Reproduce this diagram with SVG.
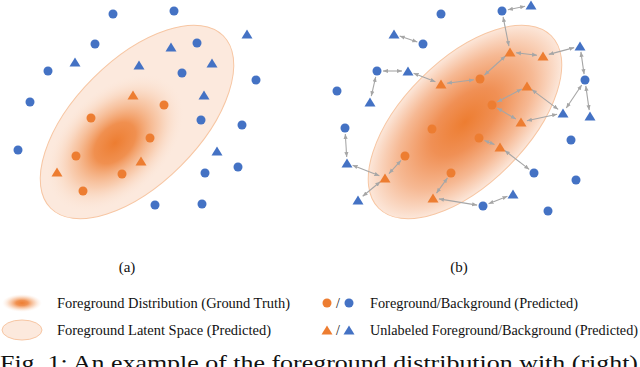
<svg xmlns="http://www.w3.org/2000/svg" xmlns:xlink="http://www.w3.org/1999/xlink" width="640" height="367" viewBox="0 0 640 367">
<style>
.bg{fill:#fff}
.b{fill:#4472C4}
.o{fill:#ED7D31}
.space{fill:#FCE9DD;stroke:#F7C6A3;stroke-width:1}
.conn line{stroke:#A6A6A6;stroke-width:1.1;marker-start:url(#ah);marker-end:url(#ah)}
.t{font-family:"Liberation Serif","Times New Roman",serif;fill:#111}
.lg{font-size:14px}
.lab{font-size:15px}
.cap{font-size:22px}
</style>
<defs>
<circle id="c" r="4.5"/>
<path id="tr" d="M0,-5.5 L5.5,3.5 L-5.5,3.5 Z"/>
<marker id="ah" viewBox="0 0 6 6" refX="6" refY="3" markerWidth="5" markerHeight="5" markerUnits="userSpaceOnUse" orient="auto-start-reverse">
<path d="M0,0.5 L6,3 L0,5.5 Z" fill="#A6A6A6"/>
</marker>
<radialGradient id="gt" cx="0.5" cy="0.5" r="0.5">
<stop offset="0" stop-color="#ED7D31" stop-opacity="1"/>
<stop offset="0.3" stop-color="#EF8640" stop-opacity="0.9"/>
<stop offset="0.65" stop-color="#F4AA78" stop-opacity="0.45"/>
<stop offset="1" stop-color="#FBE3D3" stop-opacity="0"/>
</radialGradient>
<radialGradient id="gb" cx="0.5" cy="0.5" r="0.5">
<stop offset="0" stop-color="#ED7D31"/>
<stop offset="0.35" stop-color="#F09055"/>
<stop offset="0.7" stop-color="#F6B994"/>
<stop offset="1" stop-color="#FCE7DA"/>
</radialGradient>
</defs>
<rect class="bg" x="0" y="0" width="640" height="367"/>

<!-- Panel (a) -->
<g id="panel-a-space">
<ellipse class="space" cx="137" cy="122" rx="122" ry="62" transform="rotate(-45 137 122)"/>
<ellipse cx="115" cy="143" rx="82" ry="52" fill="url(#gt)" transform="rotate(-45 115 143)"/>
</g>
<g id="a-nodes">
<g id="a-bc1"><use href="#c" class="b" x="113" y="14"/></g>
<g id="a-bc2"><use href="#c" class="b" x="174" y="11"/></g>
<g id="a-bc3"><use href="#c" class="b" x="95" y="44"/></g>
<g id="a-bc4"><use href="#c" class="b" x="197" y="43"/></g>
<g id="a-bc5"><use href="#c" class="b" x="48" y="71"/></g>
<g id="a-bc6"><use href="#c" class="b" x="182" y="73"/></g>
<g id="a-bc7"><use href="#c" class="b" x="256" y="80"/></g>
<g id="a-bc8"><use href="#c" class="b" x="30" y="102"/></g>
<g id="a-bc9"><use href="#c" class="b" x="201" y="120"/></g>
<g id="a-bc10"><use href="#c" class="b" x="242" y="125"/></g>
<g id="a-bc11"><use href="#c" class="b" x="18" y="150"/></g>
<g id="a-bc12"><use href="#c" class="b" x="205" y="173"/></g>
<g id="a-bc13"><use href="#c" class="b" x="238" y="167"/></g>
<g id="a-bc14"><use href="#c" class="b" x="155" y="205"/></g>
<g id="a-bc15"><use href="#c" class="b" x="202" y="204"/></g>
<g id="a-bt1"><use href="#tr" class="b" x="247" y="35"/></g>
<g id="a-bt2"><use href="#tr" class="b" x="171" y="48"/></g>
<g id="a-bt3"><use href="#tr" class="b" x="75" y="63"/></g>
<g id="a-bt4"><use href="#tr" class="b" x="139" y="66"/></g>
<g id="a-bt5"><use href="#tr" class="b" x="212" y="64"/></g>
<g id="a-bt6"><use href="#tr" class="b" x="204" y="96"/></g>
<g id="a-bt7"><use href="#tr" class="b" x="217" y="152"/></g>
<g id="a-oc1"><use href="#c" class="o" x="164" y="105"/></g>
<g id="a-oc2"><use href="#c" class="o" x="91" y="118"/></g>
<g id="a-oc3"><use href="#c" class="o" x="150" y="138"/></g>
<g id="a-oc4"><use href="#c" class="o" x="76" y="156"/></g>
<g id="a-oc5"><use href="#c" class="o" x="122" y="174"/></g>
<g id="a-oc6"><use href="#c" class="o" x="83" y="191"/></g>
<g id="a-ot1"><use href="#tr" class="o" x="133" y="96"/></g>
<g id="a-ot2"><use href="#tr" class="o" x="141" y="162"/></g>
<g id="a-ot3"><use href="#tr" class="o" x="57" y="173"/></g>
</g>

<!-- Panel (b) -->
<g id="panel-b-space">
<ellipse cx="465" cy="122" rx="122" ry="62" fill="url(#gb)" stroke="#F7C6A3" stroke-width="1" transform="rotate(-45 465 122)"/>
</g>
<g id="connectors" class="conn">
<line x1="507.9" y1="9.8" x2="525.1" y2="6.2"/>
<line x1="503.1" y1="16.9" x2="508.9" y2="46.1"/>
<line x1="516" y1="52.7" x2="537" y2="55.3"/>
<line x1="548.8" y1="54.4" x2="574.2" y2="47.6"/>
<line x1="580.9" y1="51.9" x2="584.1" y2="74.1"/>
<line x1="505.5" y1="56" x2="484.5" y2="75"/>
<line x1="474" y1="79.8" x2="447" y2="83.2"/>
<line x1="435.4" y1="81.8" x2="413.6" y2="73.2"/>
<line x1="402" y1="71" x2="383" y2="71"/>
<line x1="375.7" y1="76.9" x2="371.3" y2="96.1"/>
<line x1="399.7" y1="36" x2="417.3" y2="42"/>
<line x1="497.3" y1="102.1" x2="521.7" y2="88.9"/>
<line x1="497.2" y1="108" x2="515.8" y2="119"/>
<line x1="531.8" y1="89.6" x2="558.2" y2="109.4"/>
<line x1="526.9" y1="120.7" x2="557.1" y2="114.3"/>
<line x1="566.3" y1="108" x2="581.7" y2="85"/>
<line x1="585.8" y1="85.9" x2="589.2" y2="110.1"/>
<line x1="484.5" y1="140.4" x2="494.5" y2="144.6"/>
<line x1="504.8" y1="150.6" x2="529.2" y2="169.4"/>
<line x1="345.3" y1="134" x2="346.7" y2="157"/>
<line x1="352.6" y1="165.2" x2="379.4" y2="175.8"/>
<line x1="389" y1="173.6" x2="401" y2="160.4"/>
<line x1="380.3" y1="181.8" x2="362.7" y2="196.2"/>
<line x1="436.5" y1="193.1" x2="447.5" y2="177.9"/>
<line x1="438.9" y1="198.9" x2="477.1" y2="205.1"/>
<line x1="488.6" y1="203.8" x2="507.4" y2="196.2"/>
</g>
<g id="b-nodes">
<g id="b-bc1"><use href="#c" class="b" x="441" y="14"/></g>
<g id="b-bc2"><use href="#c" class="b" x="502" y="11"/></g>
<g id="b-bc3"><use href="#c" class="b" x="423" y="44"/></g>
<g id="b-bc4"><use href="#c" class="b" x="377" y="71"/></g>
<g id="b-bc5"><use href="#c" class="b" x="337" y="91"/></g>
<g id="b-bc6"><use href="#c" class="b" x="585" y="80"/></g>
<g id="b-bc7"><use href="#c" class="b" x="345" y="128"/></g>
<g id="b-bc8"><use href="#c" class="b" x="571" y="140"/></g>
<g id="b-bc9"><use href="#c" class="b" x="534" y="173"/></g>
<g id="b-bc10"><use href="#c" class="b" x="576" y="180"/></g>
<g id="b-bc11"><use href="#c" class="b" x="483" y="206"/></g>
<g id="b-bc12"><use href="#c" class="b" x="548" y="211"/></g>
<g id="b-bt1"><use href="#tr" class="b" x="531" y="6"/></g>
<g id="b-bt2"><use href="#tr" class="b" x="394" y="35"/></g>
<g id="b-bt3"><use href="#tr" class="b" x="408" y="72"/></g>
<g id="b-bt4"><use href="#tr" class="b" x="580" y="47"/></g>
<g id="b-bt5"><use href="#tr" class="b" x="370" y="103"/></g>
<g id="b-bt6"><use href="#tr" class="b" x="563" y="114"/></g>
<g id="b-bt7"><use href="#tr" class="b" x="590" y="117"/></g>
<g id="b-bt8"><use href="#tr" class="b" x="347" y="164"/></g>
<g id="b-bt9"><use href="#tr" class="b" x="358" y="201"/></g>
<g id="b-bt10"><use href="#tr" class="b" x="513" y="195"/></g>
<g id="b-oc1"><use href="#c" class="o" x="480" y="79"/></g>
<g id="b-oc2"><use href="#c" class="o" x="492" y="105"/></g>
<g id="b-oc3"><use href="#c" class="o" x="432" y="129"/></g>
<g id="b-oc4"><use href="#c" class="o" x="479" y="138"/></g>
<g id="b-oc5"><use href="#c" class="o" x="405" y="156"/></g>
<g id="b-oc6"><use href="#c" class="o" x="451" y="173"/></g>
<g id="b-ot1"><use href="#tr" class="o" x="510" y="53"/></g>
<g id="b-ot2"><use href="#tr" class="o" x="543" y="57"/></g>
<g id="b-ot3"><use href="#tr" class="o" x="441" y="85"/></g>
<g id="b-ot4"><use href="#tr" class="o" x="527" y="87"/></g>
<g id="b-ot5"><use href="#tr" class="o" x="521" y="123"/></g>
<g id="b-ot6"><use href="#tr" class="o" x="500" y="148"/></g>
<g id="b-ot7"><use href="#tr" class="o" x="385" y="179"/></g>
<g id="b-ot8"><use href="#tr" class="o" x="433" y="199"/></g>
</g>

<!-- Panel labels -->
<text class="t lab" x="127" y="272" text-anchor="middle">(a)</text>
<text class="t lab" x="459" y="272" text-anchor="middle">(b)</text>

<!-- Legend -->
<g id="legend">
<g id="lg-gt">
<ellipse cx="22" cy="303" rx="20" ry="9" fill="url(#gt)"/>
<text class="t lg" x="57" y="308" textLength="233" lengthAdjust="spacingAndGlyphs">Foreground Distribution (Ground Truth)</text>
</g>
<g id="lg-space">
<ellipse class="space" cx="22" cy="330" rx="20" ry="10"/>
<text class="t lg" x="57" y="335" textLength="214" lengthAdjust="spacingAndGlyphs">Foreground Latent Space (Predicted)</text>
</g>
<g id="lg-circ">
<use href="#c" class="o" x="327" y="303"/>
<text class="t lg" x="338" y="308" text-anchor="middle">/</text>
<use href="#c" class="b" x="349" y="303"/>
<text class="t lg" x="370" y="308" textLength="208" lengthAdjust="spacingAndGlyphs">Foreground/Background (Predicted)</text>
</g>
<g id="lg-tri">
<use href="#tr" class="o" x="327" y="331"/>
<text class="t lg" x="338" y="335" text-anchor="middle">/</text>
<use href="#tr" class="b" x="349" y="331"/>
<text class="t lg" x="370" y="335" textLength="268" lengthAdjust="spacingAndGlyphs">Unlabeled Foreground/Background (Predicted)</text>
</g>
</g>

<text class="t cap" x="0" y="370" textLength="638" lengthAdjust="spacingAndGlyphs">Fig. 1: An example of the foreground distribution with (right)</text>
</svg>
